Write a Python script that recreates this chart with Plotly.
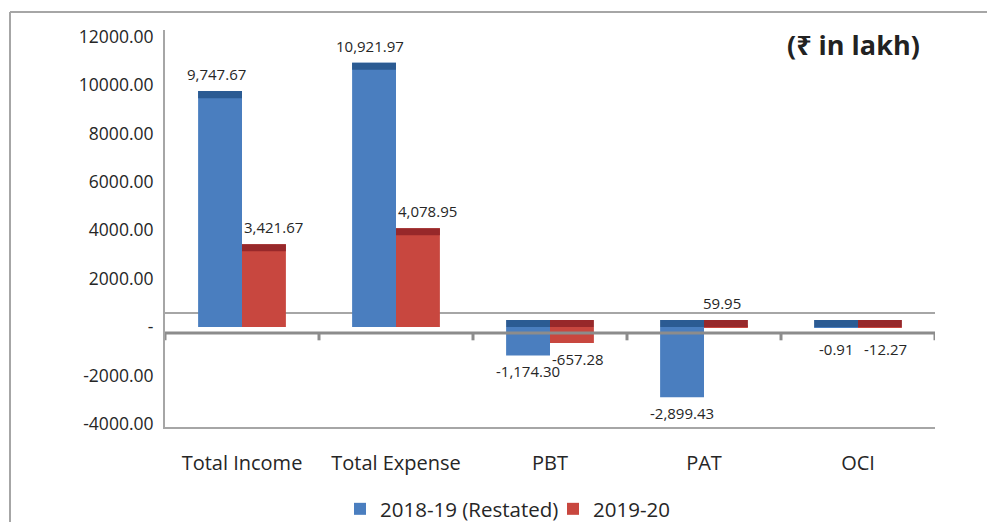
import plotly.graph_objects as go
import numpy as np

categories = ["Total Income", "Total Expense", "PBT", "PAT", "OCI"]
series_names = ["2018-19 (Restated)", "2019-20"]
values_2018 = [9747.67, 10921.97, -1174.30, -2899.43, -0.91]
values_2019 = [3421.67, 4078.95, -657.28, 59.95, -12.27]
y_tick_vals = [-4000, -2000, 0, 2000, 4000, 6000, 8000, 10000, 12000]
y_tick_text = ["-4000.00", "-2000.00", "-", "2000.00", "4000.00", "6000.00",
               "8000.00", "10000.00", "12000.00"]

# layout geometry (screen pixels; the page body adds an 8px offset)
W, H = 995, 522
OFF = 8
PL, PR, PT, PB = 165, 935, 30, 427          # plot area on screen
ML, MT = PL - OFF, PT - OFF
MR, MB = W - (PR - OFF), H - (PB - OFF)
YMIN, YMAX = -4132, 12273
BAR_W = 0.285
FACE = 290          # depth of the pseudo-3D top face, data units
FLOOR_FRONT = -250  # front edge of the floor
FLOOR_BACK = 580    # back edge of the floor

body_colors = ["#4a7ebf", "#c8473f"]
face_colors = ["#2b5b93", "#97282a"]
FONT = "Open Sans, Noto Sans, DejaVu Sans, sans-serif"
TXT = "#262626"

x = np.arange(len(categories))
fig = go.Figure()
annotations = []
for s, (vals, name) in enumerate(zip([values_2018, values_2019], series_names)):
    vals = np.array(vals)
    offset = -BAR_W if s == 0 else 0.0
    fig.add_trace(go.Bar(
        x=x, y=vals, base=0, width=BAR_W, offset=offset, name=name,
        marker=dict(color=body_colors[s], line=dict(width=0)),
        showlegend=True, hoverinfo="skip"))
    tops = np.maximum(vals, FACE)
    fig.add_trace(go.Bar(
        x=x, y=[FACE] * len(vals), base=tops - FACE, width=BAR_W, offset=offset,
        marker=dict(color=face_colors[s], line=dict(width=0)),
        showlegend=False, hoverinfo="skip"))
    for i, v in enumerate(vals):
        cx = x[i] + offset + BAR_W / 2
        if v >= 0:
            if s == 0:
                xs = -4
            else:
                xs = 10 if v > 1000 else -4
            annotations.append(dict(x=cx, y=tops[i], xref="x", yref="y",
                                    text=f"{v:,.2f}", showarrow=False,
                                    yanchor="bottom", yshift=5, xshift=xs,
                                    font=dict(size=15, color=TXT, family=FONT)))
        else:
            annotations.append(dict(x=cx, y=min(v, FLOOR_FRONT), xref="x", yref="y",
                                    text=f"{v:,.2f}", showarrow=False,
                                    yanchor="top", yshift=-4,
                                    xshift=(6 if s == 1 else 0),
                                    font=dict(size=15, color=TXT, family=FONT)))

pw = PR - PL
ph = PB - PT
def px_x(p):
    return (p - PL) / pw
def px_y(p):
    return (PB - p) / ph

annotations.append(dict(x=px_x(922), y=px_y(44), xref="paper", yref="paper",
                        text="<b>(₹ in lakh)</b>", showarrow=False,
                        xanchor="right", yanchor="middle",
                        font=dict(size=27, color="#222222", family=FONT)))

shapes = [
    # outer frame (top and left)
    dict(type="line", xref="paper", yref="paper", x0=px_x(10), x1=px_x(1010),
         y0=px_y(12), y1=px_y(12), line=dict(color="#a6a6a6", width=2)),
    dict(type="line", xref="paper", yref="paper", x0=px_x(10), x1=px_x(10),
         y0=px_y(12), y1=px_y(540), line=dict(color="#a6a6a6", width=2)),
    # floor back edge
    dict(type="line", xref="paper", yref="y", x0=0, x1=1, y0=FLOOR_BACK, y1=FLOOR_BACK,
         line=dict(color="#a6a6a6", width=2), layer="below"),
    # floor front edge
    dict(type="line", xref="paper", yref="y", x0=0, x1=1, y0=FLOOR_FRONT, y1=FLOOR_FRONT,
         line=dict(color="#8c8c8c", width=3), layer="above"),
]
for b in np.arange(-0.5, len(categories), 1.0):
    shapes.append(dict(type="line", xref="x", yref="y", x0=b, x1=b,
                       y0=FLOOR_FRONT, y1=FLOOR_FRONT - 300,
                       line=dict(color="#8c8c8c", width=3), layer="above"))

fig.update_layout(
    width=W, height=H,
    margin=dict(l=ML, r=MR, t=MT, b=MB, autoexpand=False),
    paper_bgcolor="white", plot_bgcolor="white",
    barmode="overlay",
    font=dict(family=FONT, color=TXT),
    annotations=annotations,
    shapes=shapes,
    legend=dict(orientation="h", x=px_x(340), xanchor="left",
                y=px_y(509), yanchor="middle",
                font=dict(size=20.5, color=TXT, family=FONT),
                entrywidth=168, entrywidthmode="pixels",
                itemwidth=30, traceorder="normal"),
    xaxis=dict(range=[-0.5, len(categories) - 0.5], tickvals=x, ticktext=categories,
               showgrid=False, zeroline=False, showline=True, linecolor="#a6a6a6",
               linewidth=2, ticks="", ticklabelstandoff=17,
               tickfont=dict(size=20, color=TXT, family=FONT)),
    yaxis=dict(range=[YMIN, YMAX], tickvals=y_tick_vals, ticktext=y_tick_text,
               showgrid=False, zeroline=False, showline=True, linecolor="#a6a6a6",
               linewidth=2, ticks="", ticklabelstandoff=6,
               tickfont=dict(size=17.5, color=TXT, family=FONT)),
)

fig.write_html("out.html")
